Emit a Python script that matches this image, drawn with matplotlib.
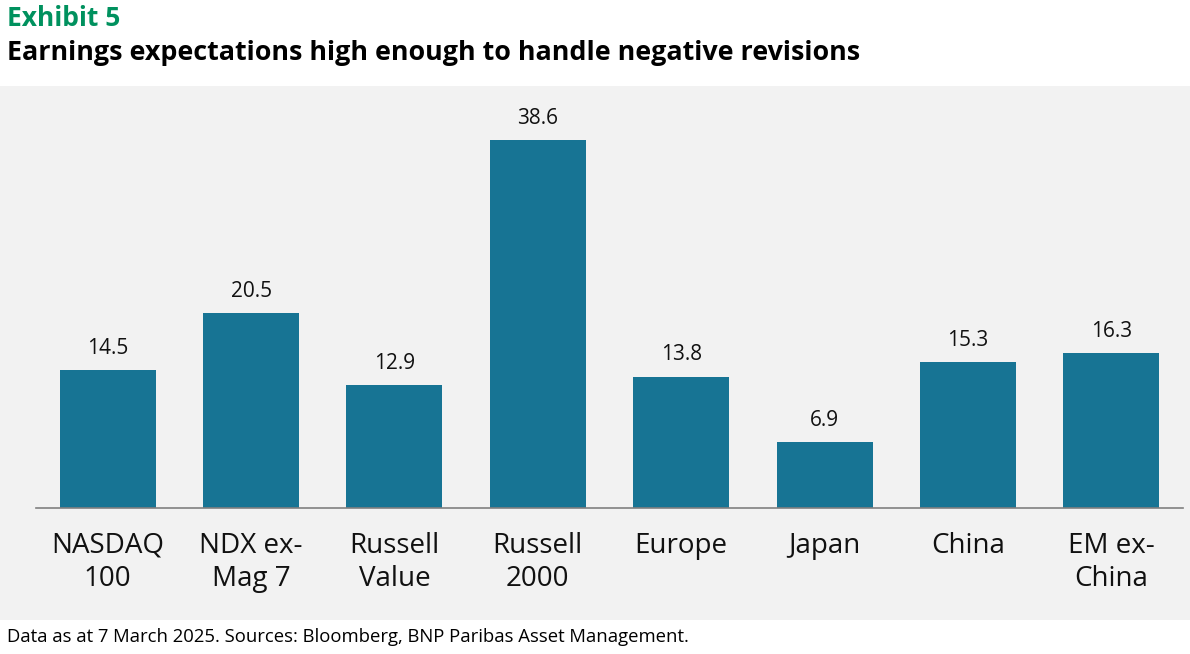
import matplotlib
matplotlib.use('Agg')
import matplotlib.pyplot as plt
from matplotlib.patches import Rectangle

# Chart data
categories = ['NASDAQ\n100', 'NDX ex-\nMag 7', 'Russell\nValue', 'Russell\n2000',
              'Europe', 'Japan', 'China', 'EM ex-\nChina']
values = [14.5, 20.5, 12.9, 38.6, 13.8, 6.9, 15.3, 16.3]
value_labels = ['14.5', '20.5', '12.9', '38.6', '13.8', '6.9', '15.3', '16.3']

BAR_COLOR = '#177494'
PANEL_COLOR = '#f2f2f2'
GREEN = '#00915e'

plt.rcParams['font.family'] = ['Open Sans', 'DejaVu Sans']

fig = plt.figure(figsize=(11.9, 6.54), dpi=100)
W, H = 1190, 654

# Gray panel behind the chart
fig.patches.append(Rectangle((0, 1 - 620 / H), 1, (620 - 86) / H,
                             transform=fig.transFigure, facecolor=PANEL_COLOR,
                             edgecolor='none', zorder=-10))

# Axes placed in pixel terms: x 36..1183, y 86..508
ax = fig.add_axes([36 / W, 1 - 508 / H, (1183 - 36) / W, (508 - 86) / H])
ax.set_facecolor('none')

x = list(range(len(categories)))
bars = ax.bar(x, values, width=0.67, color=BAR_COLOR, zorder=2)
ax.set_xlim(-0.5, len(categories) - 0.5)
ax.set_ylim(0, 44.3)

for rect, lab in zip(bars, value_labels):
    ax.annotate(lab, (rect.get_x() + rect.get_width() / 2, rect.get_height()),
                xytext=(0, 8), textcoords='offset points', ha='center', va='bottom',
                fontsize=15, color='#111111')

ax.set_xticks(x)
ax.set_xticklabels(categories, fontsize=20, linespacing=1.28, color='#111111')
ax.tick_params(axis='x', length=0, pad=17)
ax.set_yticks([])
for side in ['top', 'right', 'left']:
    ax.spines[side].set_visible(False)
ax.spines['bottom'].set_color('#808080')
ax.spines['bottom'].set_linewidth(1.2)

# Titles and footer
fig.text(7 / W, 1 - 18 / H, 'Exhibit 5', fontsize=19, fontweight='bold',
         color=GREEN, va='center', ha='left')
fig.text(7 / W, 1 - 53 / H, 'Earnings expectations high enough to handle negative revisions',
         fontsize=19.4, fontweight='bold', color='#000000', va='center', ha='left')
fig.text(7 / W, 1 - 637 / H,
         'Data as at 7 March 2025. Sources: Bloomberg, BNP Paribas Asset Management.',
         fontsize=13.3, color='#000000', va='center', ha='left')

fig.savefig('out.png', dpi=100)
